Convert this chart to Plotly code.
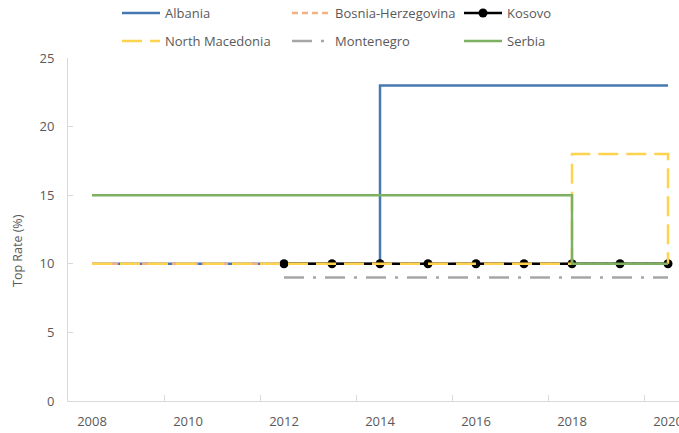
import plotly.graph_objects as go

years = [2008, 2009, 2010, 2011, 2012, 2013, 2014, 2015, 2016, 2017, 2018, 2019, 2020]
albania = [10, 10, 10, 10, 10, 10, 23, 23, 23, 23, 23, 23, 23]
bosnia = [10, 10, 10, 10, 10, 10, 10, 10, 10, 10, 10, 10, 10]
kosovo = [None, None, None, None, 10, 10, 10, 10, 10, 10, 10, 10, 10]
n_macedonia = [10, 10, 10, 10, 10, 10, 10, 10, 10, 10, 18, 18, 10]
montenegro = [None, None, None, None, 9, 9, 9, 9, 9, 9, 9, 9, 9]
serbia = [15, 15, 15, 15, 15, 15, 15, 15, 15, 15, 10, 10, 10]

label_years = [2008, 2010, 2012, 2014, 2016, 2018, 2020]
y_ticks = [0, 5, 10, 15, 20, 25]

FONT = "Open Sans"
TXT = "#595959"
AX = "#d9d9d9"
FS = 13

fig = go.Figure()

def add(name, y, color, dash, legend, width=2.5, marker=False):
    fig.add_trace(go.Scatter(
        x=years, y=y, name=name, mode="lines+markers" if marker else "lines",
        line=dict(color=color, width=width, dash=dash, shape="hv"),
        marker=dict(size=9, color="black") if marker else None,
        legend=legend, connectgaps=False,
    ))

add("Albania", albania, "#4679B2", "solid", "legend")
add("Bosnia-Herzegovina", bosnia, "#F4B183", "6px,4px", "legend2")
add("Kosovo", kosovo, "#000000", "solid", "legend3", marker=True)
add("North Macedonia", n_macedonia, "#FFD34E", "20px,8px", "legend4")
add("Montenegro", montenegro, "#A6A6A6", "20px,9px,3px,9px", "legend5")
add("Serbia", serbia, "#7DB060", "solid", "legend6")

# invisible helper trace to carry the boundary-tick axis
fig.add_trace(go.Scatter(x=[], y=[], xaxis="x2", showlegend=False, hoverinfo="skip"))

px_per_year = 48.0
plot_w = 611
plot_h = 343
x0 = 2007.5
x1 = x0 + plot_w / px_per_year

def leg(px_x, px_y):
    return dict(
        orientation="h", x=(px_x - 68) / plot_w, xanchor="left",
        y=1 + (58 - px_y) / plot_h, yanchor="middle",
        font=dict(family=FONT, color=TXT, size=FS),
        bgcolor="rgba(0,0,0,0)", itemwidth=38,
    )

fig.update_layout(
    width=679, height=433,
    margin=dict(l=68, r=0, t=58, b=32, autoexpand=False),
    plot_bgcolor="white", paper_bgcolor="white",
    font=dict(family=FONT, color=TXT, size=FS),
    xaxis=dict(
        range=[x0, x1], showgrid=False, zeroline=False,
        showline=True, linecolor=AX, linewidth=1,
        tickmode="array", tickvals=label_years, ticktext=[str(v) for v in label_years],
        ticks="", ticklabelstandoff=8, ticklabeloverflow="allow",
        tickfont=dict(family=FONT, color=TXT, size=FS),
    ),
    xaxis2=dict(
        range=[x0, x1], overlaying="x", anchor="y", side="bottom",
        showgrid=False, zeroline=False, showline=False,
        tickmode="array", tickvals=[2007.5, 2009.5, 2011.5, 2013.5, 2015.5, 2017.5, 2019.5],
        ticks="inside", ticklen=6, tickcolor=AX, tickwidth=1, showticklabels=False,
    ),
    yaxis=dict(
        range=[0, 25], showgrid=False, zeroline=False,
        showline=True, linecolor=AX, linewidth=1,
        tickmode="array", tickvals=y_ticks,
        ticks="inside", ticklen=5, tickcolor=AX,
        ticklabelstandoff=10,
        tickfont=dict(family=FONT, color=TXT, size=FS),
    ),
    legend=leg(117, 13),
    legend2=leg(287, 13),
    legend3=leg(459, 13),
    legend4=leg(117, 41),
    legend5=leg(287, 41),
    legend6=leg(459, 41),
    annotations=[dict(
        text="Top Rate (%)", textangle=-90, xref="paper", yref="paper",
        x=(17 - 68) / plot_w, y=(401 - 251) / plot_h, xanchor="center", yanchor="middle",
        showarrow=False, font=dict(family=FONT, color=TXT, size=12.5),
    )],
    showlegend=True,
)

fig.write_html(
    "out.html",
    config={"displayModeBar": False},
    post_script="document.body.style.margin='0';document.body.style.overflow='hidden';",
)
